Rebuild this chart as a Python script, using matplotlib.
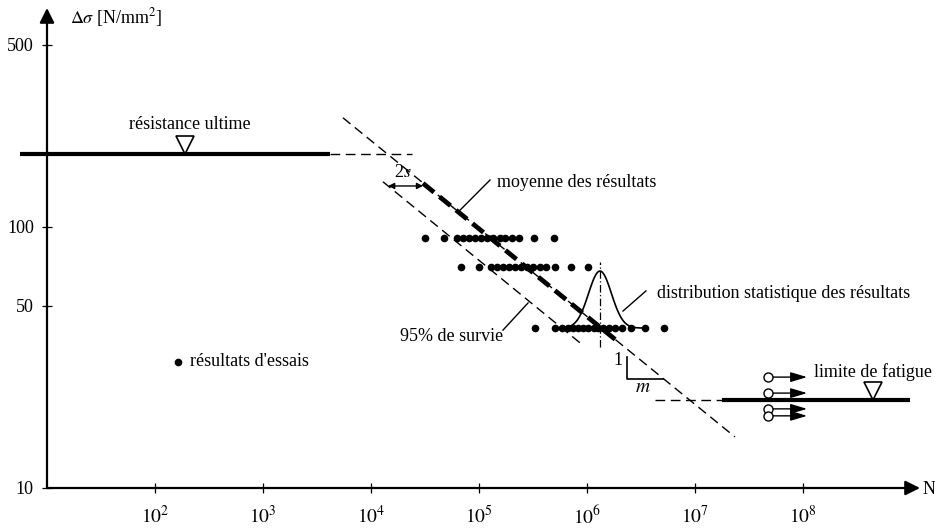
import matplotlib
matplotlib.use('Agg')
import matplotlib.pyplot as plt
import matplotlib.transforms as mtransforms
import numpy as np

plt.rcParams['font.family'] = ['Liberation Serif', 'DejaVu Serif']
plt.rcParams['mathtext.fontset'] = 'stix'

# test results, three stress levels (N as log10)
row_s = [90.8, 70.3, 41.0]
row1_logn = [4.50, 4.68, 4.80, 4.85, 4.91, 4.96, 5.02, 5.07, 5.13, 5.19, 5.24, 5.31, 5.37, 5.51, 5.69]
row2_logn = [4.83, 5.00, 5.11, 5.17, 5.22, 5.28, 5.33, 5.39, 5.44, 5.50, 5.56, 5.62, 5.70, 5.85, 6.01]
row3_logn = [5.52, 5.70, 5.77, 5.82, 5.87, 5.92, 5.96, 6.01, 6.06, 6.10, 6.15, 6.20, 6.26, 6.32,
             6.41, 6.54, 6.71]

# S-N lines
mean_n = [5.5e3, 2.34e7]
mean_s = [262, 15.7]
mean_bold_n = [3.03e4, 1.82e6]
mean_bold_s = [147, 37.1]
lower_n = [1.29e4, 8.6e5]
lower_s = [149, 36.0]

sigma_ult = 190
ult_n = [5.6, 4200]
ult_dash_n = [4200, 24000]
sigma_fat = 21.7
fat_dash_n = [4.27e6, 1.78e7]
fat_n = [1.78e7, 9.8e8]

# run-outs
runout_n = [4.74e7, 1.09e8]
runout_s = [26.6, 23.1, 20.1, 18.9]

# distribution at the lowest level
dist_center = 6.12   # log10 N
dist_sigma = 0.106   # decades
dist_peak = 67.8

xticks = [1e2, 1e3, 1e4, 1e5, 1e6, 1e7, 1e8]
xtick_labels = ['$10^{%d}$' % k for k in range(2, 9)]
yticks = [10, 50, 100, 500]
ytick_labels = ['10', '50', '100', '500']

fig = plt.figure(figsize=(9.35, 5.3), dpi=100)
ax = fig.add_axes([47 / 935, 42 / 530, 873 / 935, 480 / 530])
ax.set_xscale('log')
ax.set_yscale('log')
ax.set_xlim(10, 10 ** 9.083)
ax.set_ylim(10, 10 ** 2.839)
for sp in ax.spines.values():
    sp.set_visible(False)

ax.set_xticks(xticks)
ax.set_xticklabels(xtick_labels, fontsize=14)
ax.set_yticks(yticks)
ax.set_yticklabels(ytick_labels, fontsize=13)
ax.minorticks_off()
ax.tick_params(direction='inout', length=7, width=0.9, pad=6)
ax.tick_params(axis='x', pad=9)

# axes with arrows
ax.annotate('', xy=(1, 0), xytext=(0, 0), xycoords='axes fraction',
            arrowprops=dict(arrowstyle='-|>', mutation_scale=22, color='black', lw=1.6,
                            shrinkA=0, shrinkB=0))
ax.annotate('', xy=(0, 1), xytext=(0, 0), xycoords='axes fraction',
            arrowprops=dict(arrowstyle='-|>', mutation_scale=22, color='black', lw=1.6,
                            shrinkA=0, shrinkB=0))
ax.text(16.3, 632, r'$\mathit{\Delta\sigma}$ [N/mm$^2$]', fontsize=13, va='center', clip_on=False)
fig.text(923 / 935, 40 / 530, 'N', fontsize=13, va='center')

# ultimate strength and fatigue limit
ax.plot(ult_n, [sigma_ult] * 2, color='black', lw=3, clip_on=False, solid_capstyle='butt')
ax.plot(ult_dash_n, [sigma_ult] * 2, color='black', lw=1, dashes=(7, 4))
ax.plot(fat_n, [sigma_fat] * 2, color='black', lw=3, solid_capstyle='butt')
ax.plot(fat_dash_n, [sigma_fat] * 2, color='black', lw=1, dashes=(7, 4))

# triangles sitting on the lines
tri_tr = mtransforms.offset_copy(ax.transData, fig=fig, x=0, y=6.5, units='points')
ax.plot([190], [sigma_ult], marker='v', ms=13, mfc='white', mec='black', mew=1.2,
        transform=tri_tr, zorder=5)
ax.plot([4.45e8], [sigma_fat], marker='v', ms=13, mfc='white', mec='black', mew=1.2,
        transform=tri_tr, zorder=5)
ax.text(211, 246, 'résistance ultime', fontsize=13, ha='center', va='center')
ax.text(4.45e8, 27.8, 'limite de fatigue', fontsize=13, ha='center', va='center')

# S-N curves
ax.plot(mean_n, mean_s, color='black', lw=1, dashes=(7, 4))
ax.plot(mean_bold_n, mean_bold_s, color='black', lw=3.4, dashes=(3.0, 1.5))
ax.plot(lower_n, lower_s, color='black', lw=1, dashes=(7, 4))

# test points
for s, row in zip(row_s, [row1_logn, row2_logn, row3_logn]):
    ax.plot(10 ** np.array(row), [s] * len(row), 'o', color='black', ms=5.5, mew=0)
ax.plot([163], [30.4], 'o', color='black', ms=5.5, mew=0)
ax.text(211, 30.4, "résultats d'essais", fontsize=13, va='center')

# run-outs
for s in runout_s:
    ax.annotate('', xy=(runout_n[1], s), xytext=(runout_n[0], s),
                arrowprops=dict(arrowstyle='-|>,head_length=1.0,head_width=0.3',
                                mutation_scale=10, color='black', lw=1,
                                shrinkA=3, shrinkB=0))
    ax.plot([runout_n[0]], [s], 'o', ms=6.5, mfc='white', mec='black', mew=1, zorder=5)

# distribution curve
u = np.linspace(-0.40, 0.40, 81)
logs = np.log10(row_s[2]) + (np.log10(dist_peak) - np.log10(row_s[2])) * np.exp(-0.5 * (u / dist_sigma) ** 2)
ax.plot(10 ** (dist_center + u), 10 ** logs, color='black', lw=1.2)
ax.plot([10 ** dist_center] * 2, [34.7, 73.5], color='black', lw=0.9, dashes=(6, 2, 1, 2))

# 2s arrow
ax.annotate('', xy=(3.03e4, 143.6), xytext=(1.44e4, 143.6),
            arrowprops=dict(arrowstyle='<|-|>', mutation_scale=9, color='black', lw=1,
                            shrinkA=0, shrinkB=0))
ax.text(1.98e4, 162, r'2$\mathit{s}$', fontsize=13, ha='center', va='center')

# slope triangle
ax.plot([2.34e6, 2.34e6, 5.06e6], [31.8, 26.2, 26.2], color='black', lw=1.2)
ax.text(1.94e6, 30.9, '1', fontsize=13, ha='center', va='center')
ax.text(3.3e6, 24.2, '$m$', fontsize=14, ha='center', va='center')

# labels with leaders
ax.plot([10 ** 4.806, 10 ** 5.102], [10 ** 2.057, 10 ** 2.180], color='black', lw=1)
ax.text(1.47e5, 148.6, 'moyenne des résultats', fontsize=13, va='center')
ax.plot([10 ** 5.222, 10 ** 5.454], [10 ** 1.605, 10 ** 1.709], color='black', lw=1)
ax.text(1.67e5, 37.9, '95% de survie', fontsize=13, ha='right', va='center')
ax.plot([10 ** 6.333, 10 ** 6.546], [10 ** 1.678, 10 ** 1.755], color='black', lw=1)
ax.text(4.45e6, 55.8, 'distribution statistique des résultats', fontsize=13, va='center')

fig.savefig('out.png', dpi=100)
